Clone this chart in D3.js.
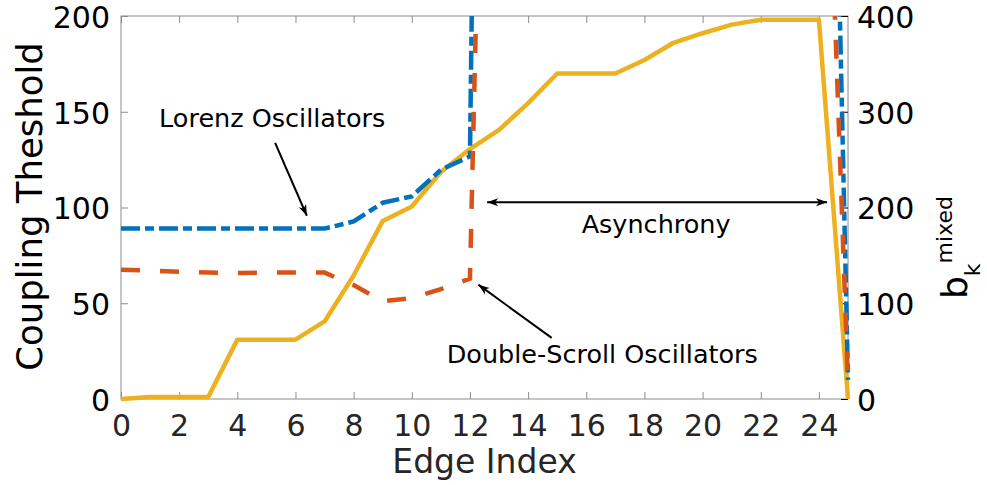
<!DOCTYPE html>
<html>
<head>
<meta charset="utf-8">
<script src="https://cdn.jsdelivr.net/npm/d3@7"></script>
<style>
body{margin:0;background:#fff}
text{font-family:"DejaVu Sans",sans-serif}
</style>
</head>
<body>
<svg id="chart"></svg>
<script>

// edge index along the x axis
var edges=[0,1,2,3,4,5,6,7,8,9,10,11,12,13,14,15,16,17,18,19,20,21,22,23,24,25]

// coupling threshold (left axis); values past 200 run off the top of the plot
var lorenz=[89,89,89,89,89,89,89,89,92.7,102.5,105.8,119.7,126.7,1340,1300,1250,1200,1150,1100,1050,1000,950,900,800,690,10]
var doubleScroll=[67.5,67,66.5,66,65.8,66,66,66,59.5,51,52.7,57.4,62.8,720,700,680,660,640,620,600,580,540,500,470,435,8]

// b_k mixed (right axis)
var bMixed=[0,2,2,2,62,62,62,81,129,186,201,237,261,281,309,340,340,340,354,372,382,391,396,396,396,0]

var xTicks=[0,2,4,6,8,10,12,14,16,18,20,22,24]
var leftTicks=[0,50,100,150,200]
var rightTicks=[0,100,200,300,400]

var screen={width:987,height:485}
var margins={top:16,right:139,bottom:86,left:121}
var width=screen.width-margins.left-margins.right
var height=screen.height-margins.top-margins.bottom

var svg=d3.select("#chart")
    .attr("width",screen.width)
    .attr("height",screen.height)

var graph=svg.append("g")
    .attr("transform","translate("+margins.left+","+margins.top+")")

var xScale=d3.scaleLinear().domain([0,25]).range([0,width])
var yLeft=d3.scaleLinear().domain([0,200]).range([height,0])
var yRight=d3.scaleLinear().domain([0,400]).range([height,0])

// arrow heads
var defs=svg.append("defs")
defs.append("marker")
    .attr("id","head")
    .attr("viewBox","-12 -6 12 12")
    .attr("refX",0).attr("refY",0)
    .attr("markerWidth",12).attr("markerHeight",12)
    .attr("markerUnits","userSpaceOnUse")
    .attr("orient","auto-start-reverse")
    .append("path")
    .attr("d","M0,0L-11,-4L-8,0L-11,4Z")
    .attr("fill","#000")

defs.append("clipPath").attr("id","plotclip")
    .append("rect")
    .attr("x",-4).attr("y",0)
    .attr("width",width+7).attr("height",height+4)

// box
graph.append("rect")
    .attr("width",width).attr("height",height)
    .attr("fill","none")
    .attr("stroke","#8c8c8c")
    .attr("stroke-width",1)

// axes
var styleAxis=function(g,tickColor,textColor)
{
    g.select(".domain").remove()
    g.selectAll(".tick line").attr("stroke",tickColor).attr("stroke-width",1)
    g.selectAll(".tick text")
        .attr("fill",textColor)
        .style("font-size","30px")
        .style("font-family","DejaVu Sans, sans-serif")
}

var xAxis=d3.axisBottom(xScale).tickValues(xTicks).tickSizeInner(-7).tickSizeOuter(0).tickPadding(16)
graph.append("g")
    .attr("transform","translate(0,"+height+")")
    .call(xAxis)
    .call(function(g){styleAxis(g,"#8c8c8c","#262626")})

var topAxis=d3.axisTop(xScale).tickValues(xTicks).tickSizeInner(-7).tickSizeOuter(0).tickFormat("")
graph.append("g")
    .call(topAxis)
    .call(function(g){styleAxis(g,"#8c8c8c","#262626")})

var leftAxis=d3.axisLeft(yLeft).tickValues(leftTicks).tickSizeInner(-7).tickSizeOuter(0).tickPadding(11)
graph.append("g")
    .call(leftAxis)
    .call(function(g){styleAxis(g,"#8c8c8c","#000")})
    .selectAll(".tick text").attr("dy","0.38em")

var rightAxis=d3.axisRight(yRight).tickValues(rightTicks).tickSizeInner(-7).tickSizeOuter(0).tickPadding(9)
graph.append("g")
    .attr("transform","translate("+width+",0)")
    .call(rightAxis)
    .call(function(g){styleAxis(g,"#000","#000")})
    .selectAll(".tick text").attr("dy","0.38em")

// lines
var plot=graph.append("g").attr("clip-path","url(#plotclip)")

var leftLine=d3.line()
    .x(function(d,i){return xScale(edges[i])})
    .y(function(d){return yLeft(d)})

var rightLine=d3.line()
    .x(function(d,i){return xScale(edges[i])})
    .y(function(d){return yRight(d)})

plot.append("path")
    .datum(bMixed)
    .attr("d",rightLine)
    .attr("fill","none")
    .attr("stroke","#EDB120")
    .attr("stroke-width",4.5)
    .attr("stroke-linejoin","round")

plot.append("path")
    .datum(lorenz)
    .attr("d",leftLine)
    .attr("fill","none")
    .attr("stroke","#0072BD")
    .attr("stroke-width",4.5)
    .attr("stroke-dasharray","19,5,9,5")

plot.append("path")
    .datum(doubleScroll)
    .attr("d",leftLine)
    .attr("fill","none")
    .attr("stroke","#D95319")
    .attr("stroke-width",4.5)
    .attr("stroke-dasharray","19,20")

// annotations (in data units of the left axis)
var arrow=function(x1,y1,x2,y2,both)
{
    var a=graph.append("line")
        .attr("x1",xScale(x1)).attr("y1",yLeft(y1))
        .attr("x2",xScale(x2)).attr("y2",yLeft(y2))
        .attr("stroke","#000")
        .attr("stroke-width",2)
        .attr("marker-end","url(#head)")
    if(both){a.attr("marker-start","url(#head)")}
}

var note=function(x,y,label)
{
    graph.append("text")
        .attr("x",xScale(x)).attr("y",yLeft(y))
        .attr("fill","#000")
        .style("font-size","25.5px")
        .text(label)
}

arrow(5.3,133.7,6.39,95.7,false)
arrow(12.59,102.8,24.28,102.8,true)
arrow(14.81,31.9,12.29,59.7,false)

note(1.31,142.2,"Lorenz Oscillators")
note(15.84,86.7,"Asynchrony")
note(11.2,19,"Double-Scroll Oscillators")

// axis titles
svg.append("text")
    .attr("x",margins.left+width/2)
    .attr("y",473)
    .attr("text-anchor","middle")
    .attr("fill","#262626")
    .style("font-size","33px")
    .text("Edge Index")

svg.append("text")
    .attr("transform","translate(42,"+(margins.top+height/2-1)+") rotate(-90)")
    .attr("text-anchor","middle")
    .attr("fill","#000")
    .style("font-size","35.5px")
    .text("Coupling Theshold")

var rlab=svg.append("text")
    .attr("transform","translate(967,299) rotate(-90)")
    .attr("fill","#000")
rlab.append("tspan").style("font-size","36px").text("b")
rlab.append("tspan").attr("dy",13).style("font-size","22px").text("k")
rlab.append("tspan").attr("dy",-28).style("font-size","22px").text("mixed")

</script>
</body>
</html>
